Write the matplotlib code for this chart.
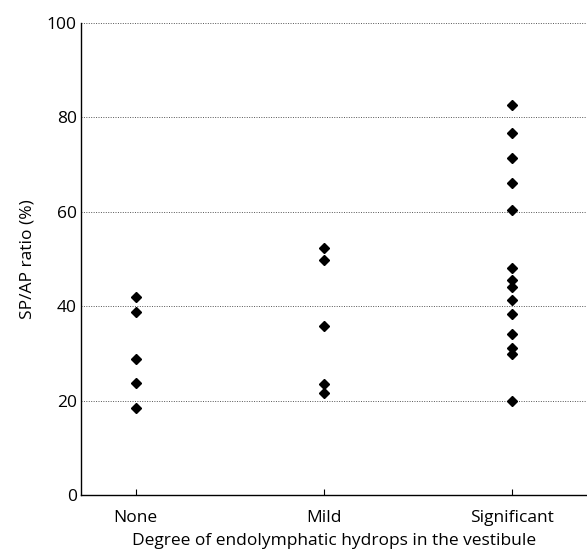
import matplotlib
matplotlib.use("Agg")
import matplotlib.pyplot as plt

plt.rcParams['font.family'] = ['Open Sans', 'DejaVu Sans']

categories = ["None", "Mild", "Significant"]
none_vals = [42.0, 38.7, 28.8, 23.7, 18.4]
mild_vals = [52.3, 49.8, 35.8, 23.5, 21.6]
significant_vals = [82.6, 76.7, 71.3, 66.2, 60.3, 48.0, 45.5, 44.0,
                    41.4, 38.3, 34.2, 31.2, 29.8, 19.9]
yticks = [0, 20, 40, 60, 80, 100]

groups = [none_vals, mild_vals, significant_vals]

fig = plt.figure(figsize=(5.87, 5.52), dpi=100)
ax = fig.add_axes([0.138, 0.1033, 0.862, 0.855])

for i, vals in enumerate(groups):
    ax.plot([i] * len(vals), vals, linestyle='none', marker='D',
            markersize=5.2, color='black', zorder=3)

fs = 12.5
ax.set_xlim(-0.29, 2.40)
ax.set_ylim(0, 100)
ax.set_xticks(range(len(categories)))
ax.set_xticklabels(categories, fontsize=fs)
ax.set_yticks(yticks)
ax.set_yticklabels([str(t) for t in yticks], fontsize=fs)

for t in yticks[1:]:
    ax.axhline(t, color='#555555', linestyle=(0, (1, 1.5)), linewidth=0.7, zorder=1)

ax.tick_params(axis='x', direction='in', length=4, width=0.8, pad=11)
ax.tick_params(axis='y', length=0, pad=3)

for s in ['top', 'right']:
    ax.spines[s].set_visible(False)
for s in ['left', 'bottom']:
    ax.spines[s].set_linewidth(1.0)
    ax.spines[s].set_color('black')

ax.set_ylabel("SP/AP ratio (%)", fontsize=fs, labelpad=8)
ax.set_xlabel("Degree of endolymphatic hydrops in the vestibule", fontsize=fs, labelpad=5)

fig.savefig("out.png", dpi=100)
